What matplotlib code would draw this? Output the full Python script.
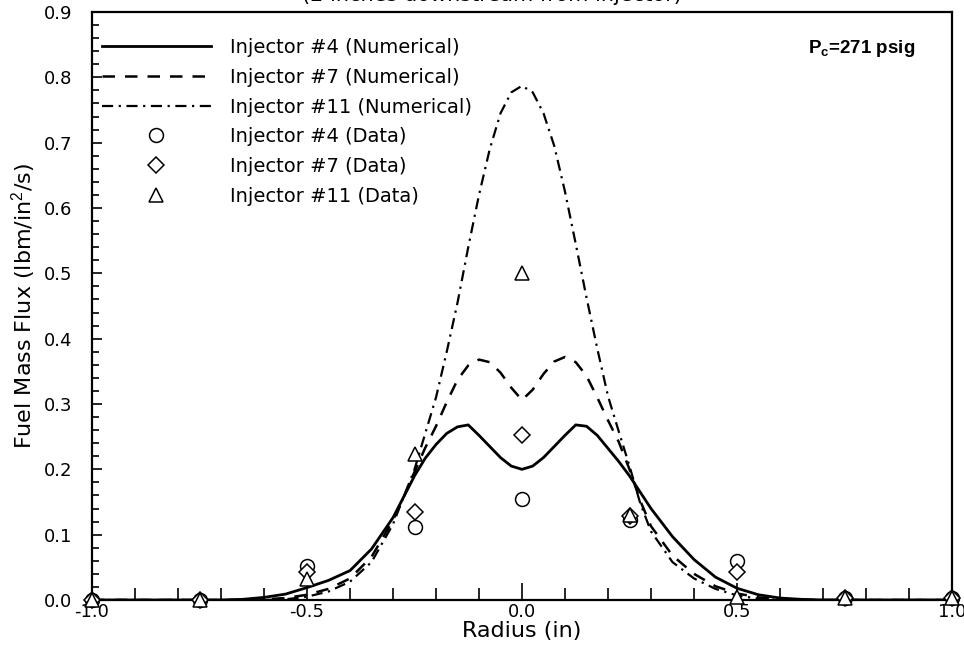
import matplotlib
matplotlib.use("Agg")
import matplotlib.pyplot as plt
from matplotlib.ticker import MultipleLocator, FormatStrFormatter

plt.rcParams['font.family'] = ['DejaVu Sans']
plt.rcParams['axes.unicode_minus'] = False
plt.rcParams['mathtext.fontset'] = 'custom'
plt.rcParams['mathtext.rm'] = 'Liberation Sans'
plt.rcParams['mathtext.bf'] = 'Liberation Sans:bold'

# numerical profiles
r_num = [-1.0, -0.7, -0.65, -0.6, -0.55, -0.5, -0.45, -0.4, -0.35, -0.3,
         -0.275, -0.25, -0.225, -0.2, -0.175, -0.15, -0.125, -0.1, -0.075, -0.05,
         -0.025, 0.0, 0.025, 0.05, 0.075, 0.1, 0.125, 0.15, 0.175, 0.2,
         0.225, 0.25, 0.275, 0.3, 0.35, 0.4, 0.45, 0.5, 0.55, 0.6,
         0.65, 0.7, 1.0]
inj4_num = [0.0, 0.0, 0.001, 0.004, 0.009, 0.019, 0.03, 0.045, 0.078, 0.126,
            0.158, 0.19, 0.217, 0.238, 0.255, 0.265, 0.268, 0.252, 0.235, 0.218,
            0.205, 0.2, 0.205, 0.218, 0.235, 0.252, 0.268, 0.266, 0.252, 0.232,
            0.212, 0.19, 0.165, 0.14, 0.097, 0.062, 0.035, 0.018, 0.008, 0.003,
            0.001, 0.0, 0.0]
inj7_num = [0.0, 0.0, 0.0, 0.001, 0.003, 0.008, 0.017, 0.033, 0.066, 0.122,
            0.158, 0.196, 0.233, 0.266, 0.303, 0.337, 0.359, 0.368, 0.364, 0.348,
            0.325, 0.306, 0.322, 0.346, 0.365, 0.372, 0.364, 0.343, 0.31, 0.275,
            0.242, 0.2, 0.152, 0.113, 0.068, 0.04, 0.021, 0.01, 0.004, 0.001,
            0.0, 0.0, 0.0]
inj11_num = [0.0, 0.0, 0.0, 0.0, 0.001, 0.005, 0.013, 0.028, 0.058, 0.116,
             0.158, 0.2, 0.255, 0.31, 0.38, 0.455, 0.54, 0.62, 0.69, 0.745,
             0.777, 0.787, 0.777, 0.745, 0.695, 0.625, 0.545, 0.463, 0.385, 0.312,
             0.258, 0.205, 0.148, 0.105, 0.058, 0.033, 0.017, 0.007, 0.002, 0.0,
             0.0, 0.0, 0.0]

# measured data
r_data = [-1.0, -0.75, -0.5, -0.25, 0.0, 0.25, 0.5, 0.75, 1.0]
inj4_data = [0.0, 0.0, 0.052, 0.112, 0.155, 0.123, 0.06, 0.003, 0.003]
inj7_data = [0.0, 0.0, 0.043, 0.134, 0.253, 0.128, 0.043, 0.003, 0.003]
inj11_data = [0.0, 0.0, 0.032, 0.223, 0.5, 0.13, 0.005, 0.003, 0.003]

fig = plt.figure(figsize=(9.64, 6.54), dpi=100)
ax = fig.add_axes([92 / 964, 1 - 600 / 654, 860 / 964, 588 / 654])

ax.plot(r_num, inj4_num, "k-", lw=2.0, label="Injector #4 (Numerical)")
ax.plot(r_num, inj7_num, "k", lw=1.8, dashes=(5, 4), label="Injector #7 (Numerical)")
ax.plot(r_num, inj11_num, "k", lw=1.6, dashes=(5, 2.5, 1, 2.5), label="Injector #11 (Numerical)")

mk = dict(ls="none", mfc="white", mec="black", mew=1.1, clip_on=False, zorder=5)
ax.plot(r_data, inj4_data, marker="o", ms=10, label="Injector #4 (Data)", **mk)
ax.plot(r_data, inj7_data, marker="D", ms=8, label="Injector #7 (Data)", **mk)
ax.plot(r_data, inj11_data, marker="^", ms=10, label="Injector #11 (Data)", **mk)

ax.set_xlim(-1.0, 1.0)
ax.set_ylim(0.0, 0.9)
ax.xaxis.set_major_locator(MultipleLocator(0.5))
ax.xaxis.set_minor_locator(MultipleLocator(0.1))
ax.yaxis.set_major_locator(MultipleLocator(0.1))
ax.yaxis.set_minor_locator(MultipleLocator(0.02))
ax.xaxis.set_major_formatter(FormatStrFormatter("%.1f"))
ax.yaxis.set_major_formatter(FormatStrFormatter("%.1f"))
ax.tick_params(which="both", direction="in", top=False, right=False, labelsize=13, width=1.2)
ax.tick_params(axis="x", which="major", length=12, pad=2)
ax.tick_params(axis="x", which="minor", length=9)
ax.tick_params(axis="y", which="major", length=7, pad=14)
ax.tick_params(axis="y", which="minor", length=5)
for s in ax.spines.values():
    s.set_linewidth(1.6)

ax.set_xlabel("Radius (in)", fontsize=16, labelpad=0)
ax.set_ylabel("Fuel Mass Flux (lbm/in$^2$/s)", fontsize=16, labelpad=4)

leg = ax.legend(loc="upper left", frameon=False, fontsize=14, handlelength=5.6,
                handletextpad=1.0, labelspacing=0.55, borderaxespad=0.1,
                bbox_to_anchor=(0.0, 0.972))

ax.text(0.957, 0.938, r"P$_\mathbf{c}$=271 psig", transform=ax.transAxes,
        fontsize=13.5, fontweight="bold", family="Liberation Sans",
        ha="right", va="center")

# title sits mostly above the top edge, as in the source image
fig.text(0.51, 1.0 + 5 / 654, "(2 inches downstream from injector)", fontsize=15,
         ha="center", va="center")

fig.savefig("out.png", dpi=100)
